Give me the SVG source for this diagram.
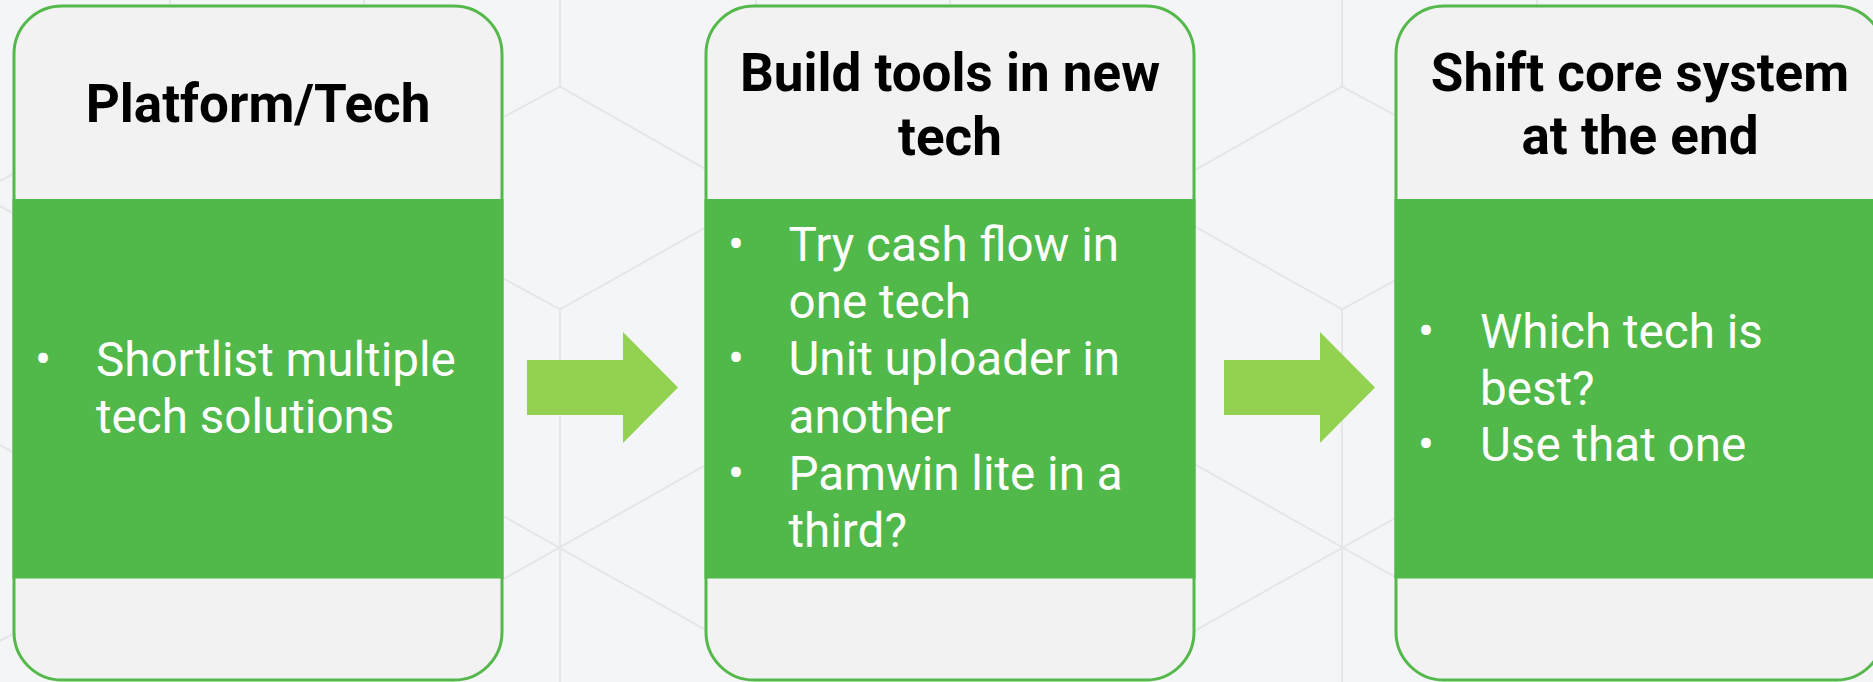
<svg xmlns="http://www.w3.org/2000/svg" width="1873" height="682" viewBox="0 0 1873 682">
  <defs>
    <style>
      .bgline { stroke: #e5e6e9; stroke-width: 2; fill: none; }
      .card { fill: #f2f2f2; stroke: #55b84b; stroke-width: 3; }
      .band { fill: #51b84a; }
      .head { font-family: Roboto, "Liberation Sans", sans-serif; font-weight: 700; font-size: 53px; fill: #000000; text-anchor: middle; }
      .body { font-family: Roboto, "Liberation Sans", sans-serif; font-weight: 400; font-size: 47.6px; fill: #ffffff; }
      .arrow { fill: #93d250; }
    </style>
  </defs>
  <rect x="0" y="0" width="1873" height="682" fill="#f4f5f7"/>
  <g id="background-pattern">
    <path class="bgline" d="M560,0 V86.7 M500,118.9 L560,86.7 L710,171.6 M500,276.7 L560,309.3 L710,225 M560,309.3 V682 M500,514.3 L710,632.3 M500,581 L710,462.7"/>
    <path class="bgline" d="M1342,0 V86.7 M1402,118.9 L1342,86.7 L1192,171.6 M1402,276.7 L1342,309.3 L1192,225 M1342,309.3 V682 M1402,514.3 L1192,632.3 M1402,581 L1192,462.7"/>
    <path class="bgline" d="M0,181 L20,170 M0,206 L20,217 M0,445 L20,456 M0,641 L20,630"/>
    <path class="bgline" d="M170,0 V40 M364,0 V40 M756,0 V40 M950,0 V40 M1537,0 V40"/>
  </g>
  <g id="node-platform">
    <rect class="card" x="14" y="6" width="488" height="674" rx="48" ry="48"/>
    <rect class="band" x="12.5" y="199" width="491" height="379.5"/>
    <text class="head" x="258" y="121.7">Platform/Tech</text>
    <text class="body" x="35" y="376">•</text>
    <text class="body" x="96" y="376">Shortlist multiple</text>
    <text class="body" x="96" y="432.6">tech solutions</text>
  </g>
  <g id="node-build">
    <rect class="card" x="706" y="6" width="488" height="674" rx="48" ry="48"/>
    <rect class="band" x="704.5" y="199" width="491" height="379.5"/>
    <text class="head" x="950" y="91">Build tools in new</text>
    <text class="head" x="950" y="154.5">tech</text>
    <text class="body" x="728" y="261">•</text>
    <text class="body" x="788.5" y="261">Try cash flow in</text>
    <text class="body" x="788.5" y="318">one tech</text>
    <text class="body" x="728" y="375">•</text>
    <text class="body" x="788.5" y="375">Unit uploader in</text>
    <text class="body" x="788.5" y="432.5">another</text>
    <text class="body" x="728" y="490">•</text>
    <text class="body" x="788.5" y="490">Pamwin lite in a</text>
    <text class="body" x="788.5" y="547">third?</text>
  </g>
  <g id="node-shift">
    <rect class="card" x="1396" y="6" width="488" height="674" rx="48" ry="48"/>
    <rect class="band" x="1394.5" y="199" width="491" height="379.5"/>
    <text class="head" x="1640" y="91.3">Shift core system</text>
    <text class="head" x="1640" y="154.4">at the end</text>
    <text class="body" x="1418" y="348">•</text>
    <text class="body" x="1480" y="348">Which tech is</text>
    <text class="body" x="1480" y="404.5">best?</text>
    <text class="body" x="1418" y="461">•</text>
    <text class="body" x="1480" y="461">Use that one</text>
  </g>
  <g id="connectors">
    <polygon class="arrow" points="527,360 623,360 623,332 678,387.5 623,443 623,415 527,415"/>
    <polygon class="arrow" points="1224,360 1320,360 1320,332 1375,387.5 1320,443 1320,415 1224,415"/>
  </g>
</svg>
